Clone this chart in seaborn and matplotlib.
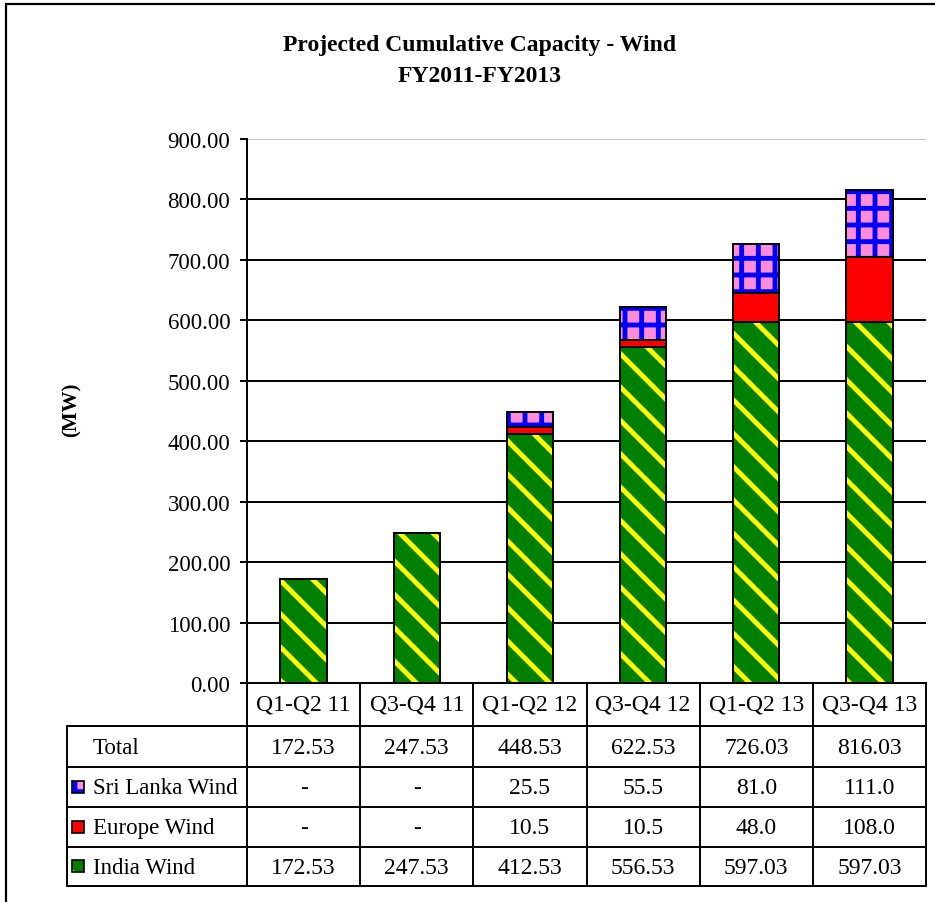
import numpy as np
import pandas as pd
import matplotlib
matplotlib.use("Agg")
import matplotlib.pyplot as plt
from matplotlib.patches import Rectangle
import seaborn as sns

quarters = ["Q1-Q2 11", "Q3-Q4 11", "Q1-Q2 12", "Q3-Q4 12", "Q1-Q2 13", "Q3-Q4 13"]
india_wind = [172.53, 247.53, 412.53, 556.53, 597.03, 597.03]
europe_wind = [0.0, 0.0, 10.5, 10.5, 48.0, 108.0]
sri_lanka_wind = [0.0, 0.0, 25.5, 55.5, 81.0, 111.0]
y_ticks = [0, 100, 200, 300, 400, 500, 600, 700, 800, 900]

# layout (pixels)
W, H = 935, 903
AX_L, AX_R, AX_T, AX_B = 247, 926, 140, 684
TAB_L = 67
ROW_Y = [684, 727, 768, 808, 848, 887]

sns.set_theme(style="white")
plt.rcParams['font.family'] = ['Liberation Serif', 'DejaVu Serif']
plt.rcParams['hatch.linewidth'] = 3.5
for k in ['text.color', 'axes.labelcolor', 'xtick.color', 'ytick.color']:
    plt.rcParams[k] = 'black'

fig = plt.figure(figsize=(W / 100, H / 100), dpi=100)
ax = fig.add_axes([AX_L / W, 1 - AX_B / H, (AX_R - AX_L) / W, (AX_B - AX_T) / H])

india = np.array(india_wind)
europe = np.array(europe_wind)
sri = np.array(sri_lanka_wind)
total = india + europe + sri

df = pd.DataFrame({"quarter": quarters, "India Wind": india,
                   "Europe Wind": europe, "Sri Lanka Wind": sri})

# (column, bottom, face, hatch colour, hatch)
styles = {
    "India Wind": ("#008000", "#ffff00", "\\"),
    "Europe Wind": ("#ff0000", "#ff0000", None),
    "Sri Lanka Wind": ("#ff8cd9", "#0000ff", "+"),
}
bottoms = {
    "India Wind": np.zeros(len(quarters)),
    "Europe Wind": india,
    "Sri Lanka Wind": india + europe,
}

for col in ["India Wind", "Europe Wind", "Sri Lanka Wind"]:
    face, hcol, hatch = styles[col]
    sns.barplot(data=df, x="quarter", y=col, bottom=bottoms[col], color=face, saturation=1,
                width=0.41, hatch=hatch, edgecolor=hcol, linewidth=0, ax=ax, zorder=2)
    sns.barplot(data=df, x="quarter", y=col, bottom=bottoms[col], fill=False, color="black",
                width=0.41, linewidth=1.4, ax=ax, zorder=3)

ax.set_ylim(0, 900)
ax.set_xlim(-0.5, len(quarters) - 0.5)
ax.set_yticks(y_ticks)
ax.set_yticklabels([f"{v:.2f}" for v in y_ticks])
ax.set_xlabel("")
ax.set_ylabel("")
ax.tick_params(axis='x', length=0, labelbottom=False)
ax.tick_params(axis='y', left=True, length=5, width=1.4, direction='out',
               labelsize=16.5, pad=7, colors='black')
ax.set_axisbelow(True)
ax.yaxis.grid(True, color='black', linewidth=1.4)
ax.yaxis.get_gridlines()[-1].set_color('#c8c8c8')
for s in ['top', 'right']:
    ax.spines[s].set_visible(False)
for s in ['left', 'bottom']:
    ax.spines[s].set_color('black')
    ax.spines[s].set_linewidth(1.4)

# overlay in pixel coordinates for title, border and data table
ov = fig.add_axes([0, 0, 1, 1])
ov.set_xlim(0, W)
ov.set_ylim(H, 0)
ov.set_axis_off()

ov.plot([6, 6, W], [H, 5, 5], color='black', lw=1.6, solid_joinstyle='miter')

ov.text(480, 46, "Projected Cumulative Capacity - Wind", ha='center', va='center',
        fontsize=17, fontweight='bold')
ov.text(480, 76, "FY2011-FY2013", ha='center', va='center', fontsize=17, fontweight='bold')
ov.text(72, 410, "(MW)", ha='center', va='center', rotation=90, fontsize=15, fontweight='bold')

edges = np.linspace(AX_L, AX_R, len(quarters) + 1)
centers = (edges[:-1] + edges[1:]) / 2
lw = 1.4
for y in ROW_Y[1:]:
    ov.plot([TAB_L, AX_R], [y, y], color='black', lw=lw)
ov.plot([TAB_L, TAB_L], [ROW_Y[1], ROW_Y[-1]], color='black', lw=lw)
for x in edges:
    ov.plot([x, x], [ROW_Y[0], ROW_Y[-1]], color='black', lw=lw)

fs = 17
for c, q in zip(centers, quarters):
    ov.text(c, (ROW_Y[0] + ROW_Y[1]) / 2, q, ha='center', va='center', fontsize=fs)


def fmt1(v):
    return "-" if v == 0 else f"{v:.1f}"


rows = [
    ("Total", [f"{v:.2f}" for v in total], None),
    ("Sri Lanka Wind", [fmt1(v) for v in sri], styles["Sri Lanka Wind"]),
    ("Europe Wind", [fmt1(v) for v in europe], styles["Europe Wind"]),
    ("India Wind", [f"{v:.2f}" for v in india], styles["India Wind"]),
]
for i, (label, vals, sw) in enumerate(rows):
    yc = (ROW_Y[i + 1] + ROW_Y[i + 2]) / 2
    ov.text(93, yc + 1, label, ha='left', va='center', fontsize=16.5)
    if sw is not None:
        ov.add_patch(Rectangle((72, yc - 6), 12, 12, facecolor=sw[0], edgecolor=sw[1],
                               hatch=sw[2], lw=0))
        ov.add_patch(Rectangle((72, yc - 6), 12, 12, fill=False, edgecolor='black', lw=1.2))
    for c, v in zip(centers, vals):
        ov.text(c, yc + 1, v, ha='center', va='center', fontsize=fs)

fig.savefig("out.png", dpi=100, facecolor='white')
